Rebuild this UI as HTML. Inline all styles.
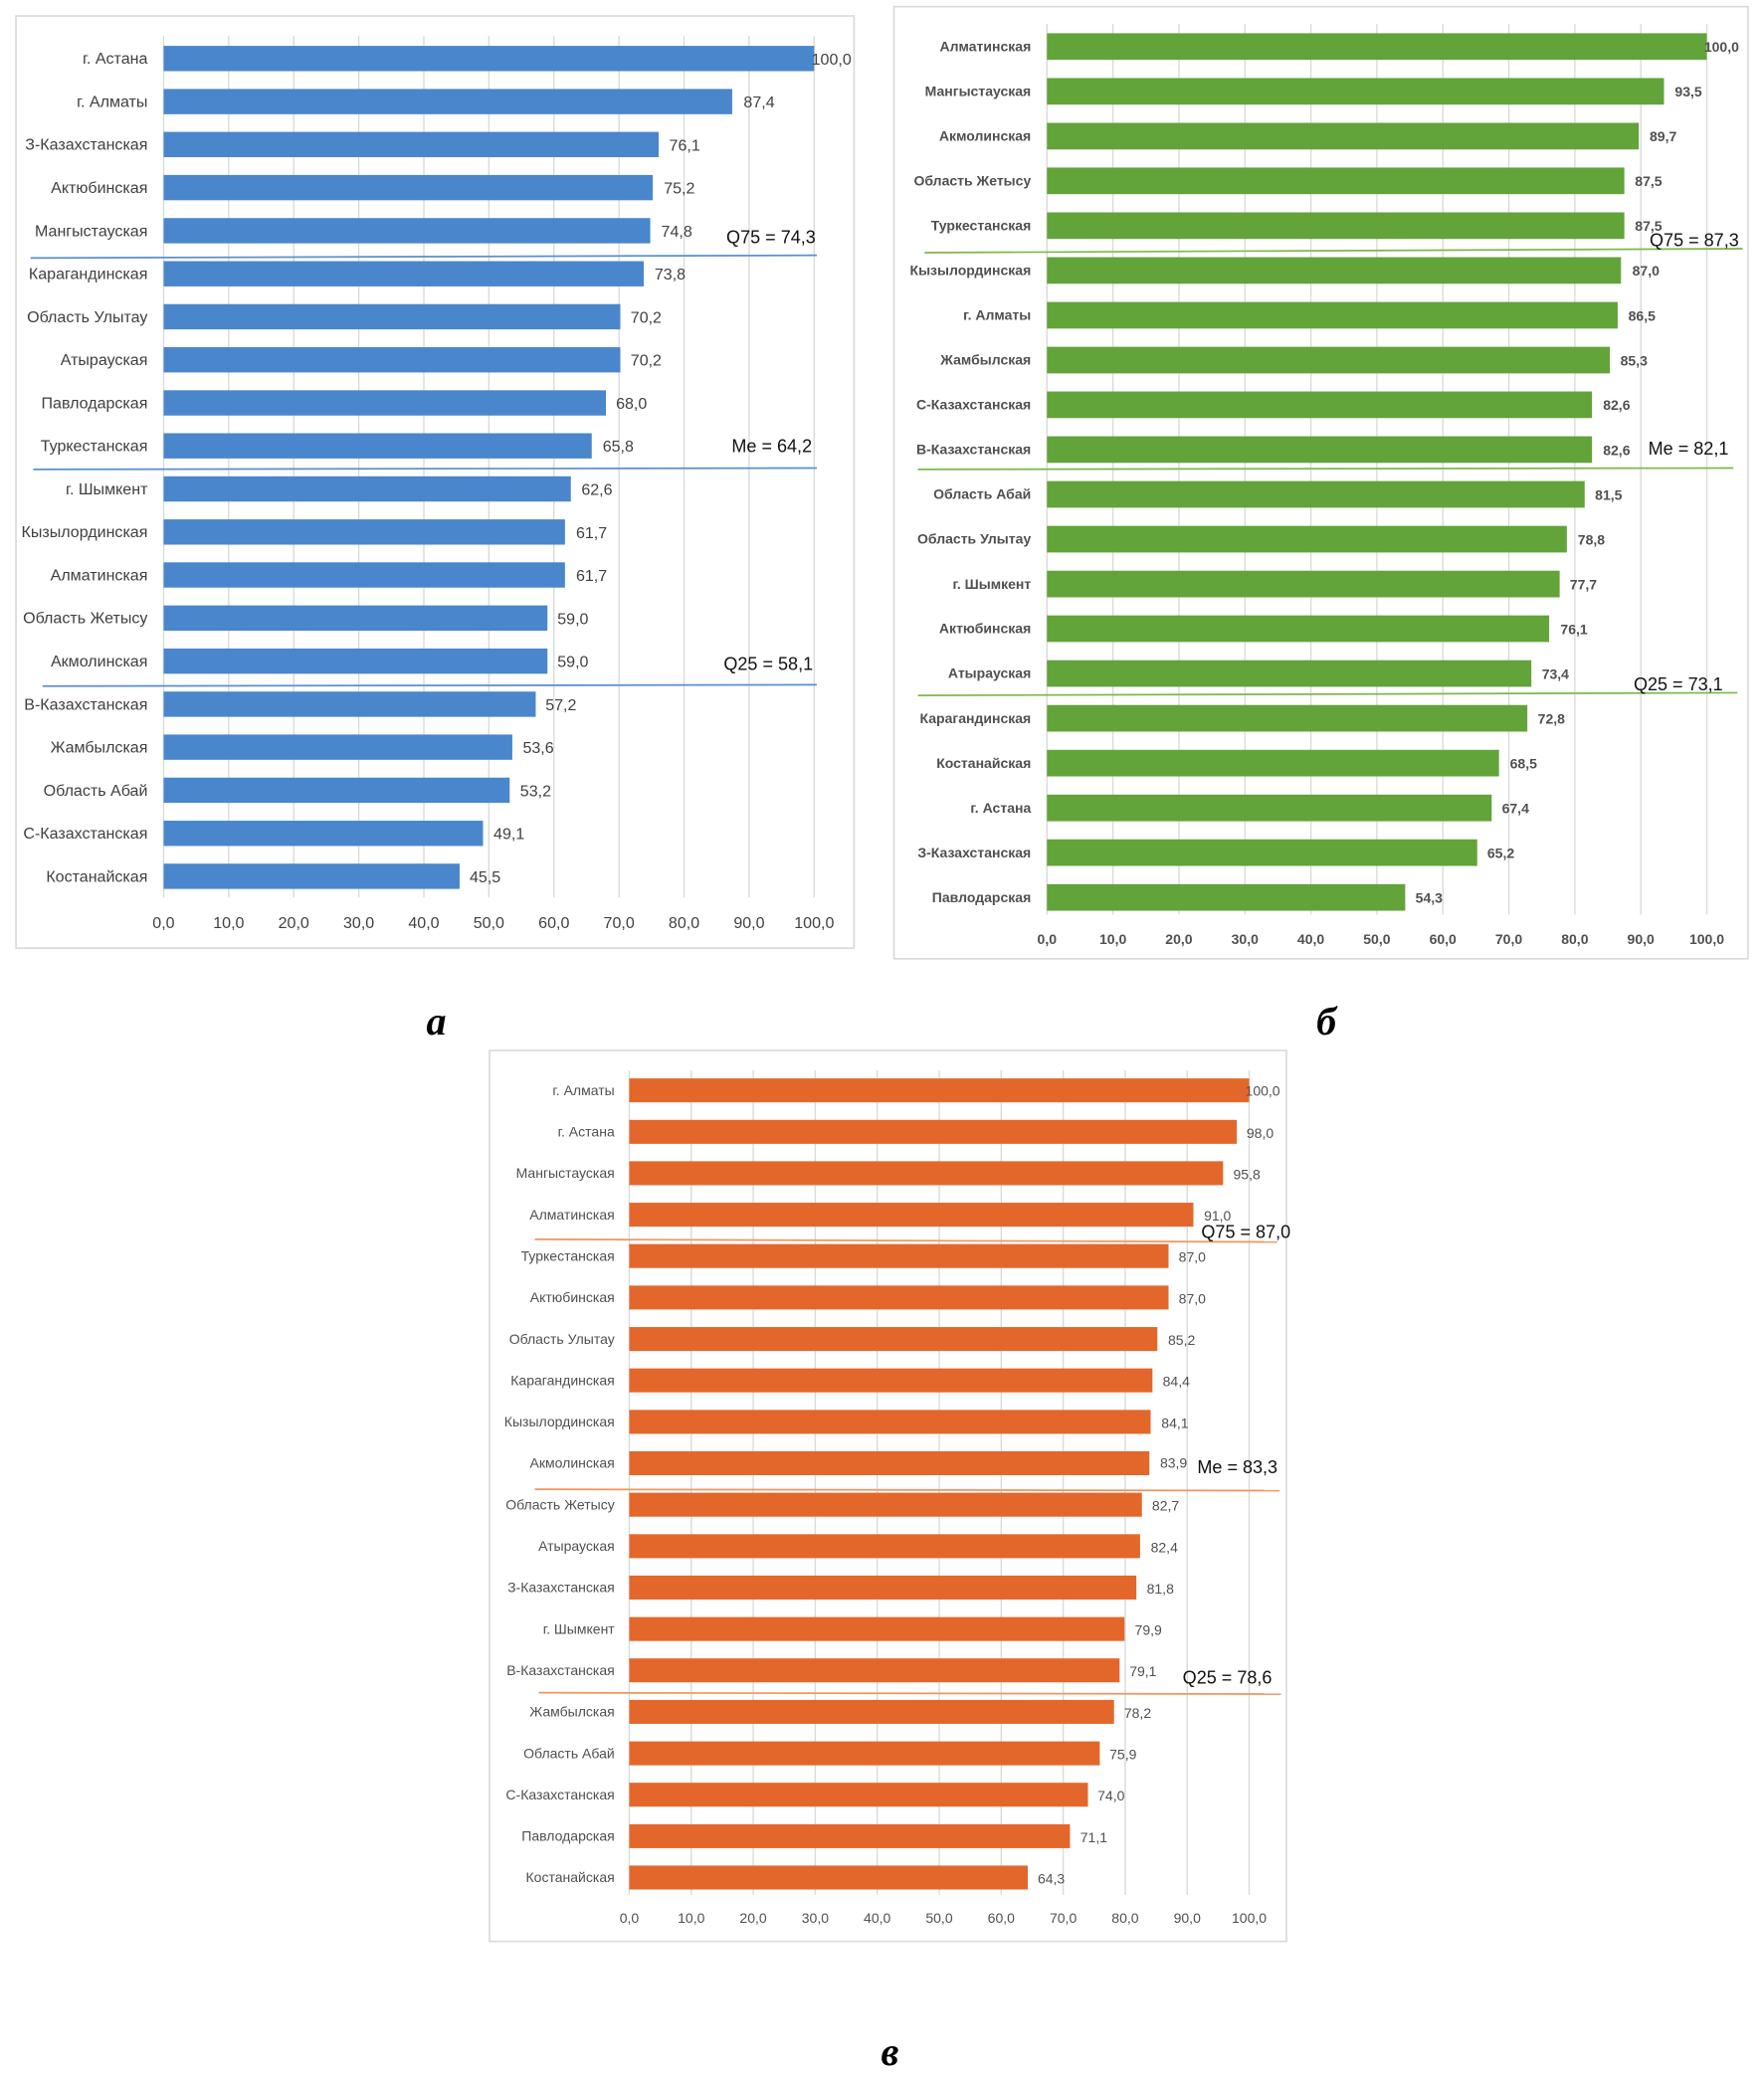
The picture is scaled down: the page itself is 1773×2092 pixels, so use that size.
<!DOCTYPE html>
<html><head><meta charset="utf-8">
<style>
html,body{margin:0;padding:0;background:#fff;}
svg{display:block;}
.a text{font-family:"Liberation Sans Narrow","Liberation Sans",sans-serif;font-size:12px;fill:#404040;}
.b text{font-family:"Liberation Sans Narrow","Liberation Sans",sans-serif;font-size:10.5px;fill:#505050;font-weight:bold;}
.c text{font-family:"Liberation Sans Narrow","Liberation Sans",sans-serif;font-size:10.5px;fill:#505050;}
.cat{text-anchor:end;}
.tk{text-anchor:middle;}
.q{font-size:13.5px !important;fill:#111 !important;font-weight:normal !important;}
.cap{font-family:"Liberation Serif",serif;font-style:italic;font-weight:bold;font-size:30px;fill:#000;text-anchor:middle;}
</style></head><body>
<svg width="1773" height="2092" viewBox="0 0 1326 1565" preserveAspectRatio="none" xmlns="http://www.w3.org/2000/svg">
<!-- Chart A -->
<g class="a">
<rect x="12" y="12" width="630" height="701" fill="#fff" stroke="#d9d9d9" stroke-width="1.2"/>
<g stroke="#d9d9d9" stroke-width="1">
<line x1="123" y1="27" x2="123" y2="675"/><line x1="171.9" y1="27" x2="171.9" y2="675"/><line x1="220.8" y1="27" x2="220.8" y2="675"/><line x1="269.7" y1="27" x2="269.7" y2="675"/><line x1="318.6" y1="27" x2="318.6" y2="675"/><line x1="367.5" y1="27" x2="367.5" y2="675"/><line x1="416.4" y1="27" x2="416.4" y2="675"/><line x1="465.3" y1="27" x2="465.3" y2="675"/><line x1="514.2" y1="27" x2="514.2" y2="675"/><line x1="563.1" y1="27" x2="563.1" y2="675"/><line x1="612" y1="27" x2="612" y2="675"/>
</g>
<g fill="#4a86cb">
<rect x="123" y="34.5" width="489" height="19"/>
<rect x="123" y="66.9" width="427.4" height="19"/>
<rect x="123" y="99.2" width="372.1" height="19"/>
<rect x="123" y="131.6" width="367.7" height="19"/>
<rect x="123" y="164.0" width="365.8" height="19"/>
<rect x="123" y="196.4" width="360.9" height="19"/>
<rect x="123" y="228.7" width="343.3" height="19"/>
<rect x="123" y="261.1" width="343.3" height="19"/>
<rect x="123" y="293.5" width="332.5" height="19"/>
<rect x="123" y="325.8" width="321.8" height="19"/>
<rect x="123" y="358.2" width="306.1" height="19"/>
<rect x="123" y="390.6" width="301.7" height="19"/>
<rect x="123" y="422.9" width="301.7" height="19"/>
<rect x="123" y="455.3" width="288.5" height="19"/>
<rect x="123" y="487.7" width="288.5" height="19"/>
<rect x="123" y="520.1" width="279.7" height="19"/>
<rect x="123" y="552.4" width="262.1" height="19"/>
<rect x="123" y="584.8" width="260.1" height="19"/>
<rect x="123" y="617.2" width="240.1" height="19"/>
<rect x="123" y="649.5" width="222.5" height="19"/>
</g>
<g class="cat">
<text x="111" y="48" class="cat">г. Астана</text>
<text x="111" y="80.4" class="cat">г. Алматы</text>
<text x="111" y="112.7" class="cat">З-Казахстанская</text>
<text x="111" y="145.1" class="cat">Актюбинская</text>
<text x="111" y="177.5" class="cat">Мангыстауская</text>
<text x="111" y="209.9" class="cat">Карагандинская</text>
<text x="111" y="242.2" class="cat">Область Улытау</text>
<text x="111" y="274.6" class="cat">Атырауская</text>
<text x="111" y="307" class="cat">Павлодарская</text>
<text x="111" y="339.3" class="cat">Туркестанская</text>
<text x="111" y="371.7" class="cat">г. Шымкент</text>
<text x="111" y="404.1" class="cat">Кызылординская</text>
<text x="111" y="436.4" class="cat">Алматинская</text>
<text x="111" y="468.8" class="cat">Область Жетысу</text>
<text x="111" y="501.2" class="cat">Акмолинская</text>
<text x="111" y="533.6" class="cat">В-Казахстанская</text>
<text x="111" y="565.9" class="cat">Жамбылская</text>
<text x="111" y="598.3" class="cat">Область Абай</text>
<text x="111" y="630.7" class="cat">С-Казахстанская</text>
<text x="111" y="663" class="cat">Костанайская</text>
</g>
<text x="610" y="48.5">100,0</text>
<text x="559" y="80.9">87,4</text>
<text x="503" y="113.2">76,1</text>
<text x="499" y="145.6">75,2</text>
<text x="497" y="178">74,8</text>
<text x="492" y="210.4">73,8</text>
<text x="474" y="242.7">70,2</text>
<text x="474" y="275.1">70,2</text>
<text x="463" y="307.5">68,0</text>
<text x="453" y="339.8">65,8</text>
<text x="437" y="372.2">62,6</text>
<text x="433" y="404.6">61,7</text>
<text x="433" y="436.9">61,7</text>
<text x="419" y="469.3">59,0</text>
<text x="419" y="501.7">59,0</text>
<text x="410" y="534.1">57,2</text>
<text x="393" y="566.4">53,6</text>
<text x="391" y="598.8">53,2</text>
<text x="371" y="631.2">49,1</text>
<text x="353" y="663.5">45,5</text>
<g class="tk">
<text x="123" y="698" class="tk">0,0</text><text x="171.9" y="698" class="tk">10,0</text><text x="220.8" y="698" class="tk">20,0</text><text x="269.7" y="698" class="tk">30,0</text><text x="318.6" y="698" class="tk">40,0</text><text x="367.5" y="698" class="tk">50,0</text><text x="416.4" y="698" class="tk">60,0</text><text x="465.3" y="698" class="tk">70,0</text><text x="514.2" y="698" class="tk">80,0</text><text x="563.1" y="698" class="tk">90,0</text><text x="612" y="698" class="tk">100,0</text>
</g>
<g stroke="#5b8fcf" stroke-width="1.3">
<line x1="23" y1="194" x2="614" y2="192"/>
<line x1="25" y1="353" x2="614" y2="352"/>
<line x1="32" y1="516" x2="614" y2="515"/>
</g>
<text x="546" y="183" class="q">Q75 = 74,3</text>
<text x="550" y="340" class="q">Me = 64,2</text>
<text x="544" y="504" class="q">Q25 = 58,1</text>
</g>

<!-- Chart B -->
<g class="b">
<rect x="672" y="5" width="642" height="716" fill="#fff" stroke="#d9d9d9" stroke-width="1.2"/>
<g stroke="#d9d9d9" stroke-width="1">
<line x1="787" y1="18" x2="787" y2="688"/><line x1="836.6" y1="18" x2="836.6" y2="688"/><line x1="886.2" y1="18" x2="886.2" y2="688"/><line x1="935.8" y1="18" x2="935.8" y2="688"/><line x1="985.4" y1="18" x2="985.4" y2="688"/><line x1="1035" y1="18" x2="1035" y2="688"/><line x1="1084.6" y1="18" x2="1084.6" y2="688"/><line x1="1134.2" y1="18" x2="1134.2" y2="688"/><line x1="1183.8" y1="18" x2="1183.8" y2="688"/><line x1="1233.4" y1="18" x2="1233.4" y2="688"/><line x1="1283" y1="18" x2="1283" y2="688"/>
</g>
<g fill="#62a33a">
<rect x="787" y="25" width="496" height="20"/>
<rect x="787" y="58.7" width="463.8" height="20"/>
<rect x="787" y="92.4" width="444.9" height="20"/>
<rect x="787" y="126" width="434" height="20"/>
<rect x="787" y="159.7" width="434" height="20"/>
<rect x="787" y="193.4" width="431.5" height="20"/>
<rect x="787" y="227.1" width="429" height="20"/>
<rect x="787" y="260.8" width="423.1" height="20"/>
<rect x="787" y="294.4" width="409.7" height="20"/>
<rect x="787" y="328.1" width="409.7" height="20"/>
<rect x="787" y="361.8" width="404.2" height="20"/>
<rect x="787" y="395.5" width="390.8" height="20"/>
<rect x="787" y="429.2" width="385.4" height="20"/>
<rect x="787" y="462.8" width="377.5" height="20"/>
<rect x="787" y="496.5" width="364.1" height="20"/>
<rect x="787" y="530.2" width="361.1" height="20"/>
<rect x="787" y="563.9" width="339.8" height="20"/>
<rect x="787" y="597.6" width="334.3" height="20"/>
<rect x="787" y="631.2" width="323.4" height="20"/>
<rect x="787" y="664.9" width="269.3" height="20"/>
</g>
<text x="775" y="38.5" class="cat">Алматинская</text>
<text x="775" y="72.2" class="cat">Мангыстауская</text>
<text x="775" y="105.9" class="cat">Акмолинская</text>
<text x="775" y="139.5" class="cat">Область Жетысу</text>
<text x="775" y="173.2" class="cat">Туркестанская</text>
<text x="775" y="206.9" class="cat">Кызылординская</text>
<text x="775" y="240.6" class="cat">г. Алматы</text>
<text x="775" y="274.3" class="cat">Жамбылская</text>
<text x="775" y="307.9" class="cat">С-Казахстанская</text>
<text x="775" y="341.6" class="cat">В-Казахстанская</text>
<text x="775" y="375.3" class="cat">Область Абай</text>
<text x="775" y="409" class="cat">Область Улытау</text>
<text x="775" y="442.7" class="cat">г. Шымкент</text>
<text x="775" y="476.3" class="cat">Актюбинская</text>
<text x="775" y="510" class="cat">Атырауская</text>
<text x="775" y="543.7" class="cat">Карагандинская</text>
<text x="775" y="577.4" class="cat">Костанайская</text>
<text x="775" y="611.1" class="cat">г. Астана</text>
<text x="775" y="644.7" class="cat">З-Казахстанская</text>
<text x="775" y="678.4" class="cat">Павлодарская</text>
<text x="1281" y="39">100,0</text>
<text x="1259" y="72.7">93,5</text>
<text x="1240" y="106.4">89,7</text>
<text x="1229" y="140">87,5</text>
<text x="1229" y="173.7">87,5</text>
<text x="1227" y="207.4">87,0</text>
<text x="1224" y="241.1">86,5</text>
<text x="1218" y="274.8">85,3</text>
<text x="1205" y="308.4">82,6</text>
<text x="1205" y="342.1">82,6</text>
<text x="1199" y="375.8">81,5</text>
<text x="1186" y="409.5">78,8</text>
<text x="1180" y="443.2">77,7</text>
<text x="1173" y="476.8">76,1</text>
<text x="1159" y="510.5">73,4</text>
<text x="1156" y="544.2">72,8</text>
<text x="1135" y="577.9">68,5</text>
<text x="1129" y="611.6">67,4</text>
<text x="1118" y="645.2">65,2</text>
<text x="1064" y="678.9">54,3</text>
<text x="787" y="710" class="tk">0,0</text><text x="836.6" y="710" class="tk">10,0</text><text x="886.2" y="710" class="tk">20,0</text><text x="935.8" y="710" class="tk">30,0</text><text x="985.4" y="710" class="tk">40,0</text><text x="1035" y="710" class="tk">50,0</text><text x="1084.6" y="710" class="tk">60,0</text><text x="1134.2" y="710" class="tk">70,0</text><text x="1183.8" y="710" class="tk">80,0</text><text x="1233.4" y="710" class="tk">90,0</text><text x="1283" y="710" class="tk">100,0</text>
<g stroke="#7cb84a" stroke-width="1.3">
<line x1="695" y1="190" x2="1310" y2="187"/>
<line x1="690" y1="353" x2="1303" y2="352"/>
<line x1="690" y1="523" x2="1306" y2="521"/>
</g>
<text x="1240" y="185" class="q">Q75 = 87,3</text>
<text x="1239" y="342" class="q">Me = 82,1</text>
<text x="1228" y="519" class="q">Q25 = 73,1</text>
</g>

<!-- Chart C -->
<g class="c">
<rect x="368" y="790" width="599" height="670" fill="#fff" stroke="#d9d9d9" stroke-width="1.2"/>
<g stroke="#d9d9d9" stroke-width="1">
<line x1="473" y1="805" x2="473" y2="1425"/><line x1="519.6" y1="805" x2="519.6" y2="1425"/><line x1="566.2" y1="805" x2="566.2" y2="1425"/><line x1="612.8" y1="805" x2="612.8" y2="1425"/><line x1="659.4" y1="805" x2="659.4" y2="1425"/><line x1="706" y1="805" x2="706" y2="1425"/><line x1="752.6" y1="805" x2="752.6" y2="1425"/><line x1="799.2" y1="805" x2="799.2" y2="1425"/><line x1="845.8" y1="805" x2="845.8" y2="1425"/><line x1="892.4" y1="805" x2="892.4" y2="1425"/><line x1="939" y1="805" x2="939" y2="1425"/>
</g>
<g fill="#e3672b">
<rect x="473" y="811" width="466" height="18"/>
<rect x="473" y="842.2" width="456.7" height="18"/>
<rect x="473" y="873.3" width="446.4" height="18"/>
<rect x="473" y="904.5" width="424.1" height="18"/>
<rect x="473" y="935.6" width="405.4" height="18"/>
<rect x="473" y="966.8" width="405.4" height="18"/>
<rect x="473" y="998" width="397" height="18"/>
<rect x="473" y="1029.1" width="393.3" height="18"/>
<rect x="473" y="1060.3" width="391.9" height="18"/>
<rect x="473" y="1091.4" width="391" height="18"/>
<rect x="473" y="1122.6" width="385.4" height="18"/>
<rect x="473" y="1153.8" width="384" height="18"/>
<rect x="473" y="1184.9" width="381.2" height="18"/>
<rect x="473" y="1216.1" width="372.3" height="18"/>
<rect x="473" y="1247.2" width="368.6" height="18"/>
<rect x="473" y="1278.4" width="364.4" height="18"/>
<rect x="473" y="1309.6" width="353.7" height="18"/>
<rect x="473" y="1340.7" width="344.8" height="18"/>
<rect x="473" y="1371.9" width="331.3" height="18"/>
<rect x="473" y="1403" width="299.6" height="18"/>
</g>
<text x="462" y="823.5" class="cat">г. Алматы</text>
<text x="462" y="854.7" class="cat">г. Астана</text>
<text x="462" y="885.8" class="cat">Мангыстауская</text>
<text x="462" y="917" class="cat">Алматинская</text>
<text x="462" y="948.1" class="cat">Туркестанская</text>
<text x="462" y="979.3" class="cat">Актюбинская</text>
<text x="462" y="1010.5" class="cat">Область Улытау</text>
<text x="462" y="1041.6" class="cat">Карагандинская</text>
<text x="462" y="1072.8" class="cat">Кызылординская</text>
<text x="462" y="1103.9" class="cat">Акмолинская</text>
<text x="462" y="1135.1" class="cat">Область Жетысу</text>
<text x="462" y="1166.3" class="cat">Атырауская</text>
<text x="462" y="1197.4" class="cat">З-Казахстанская</text>
<text x="462" y="1228.6" class="cat">г. Шымкент</text>
<text x="462" y="1259.7" class="cat">В-Казахстанская</text>
<text x="462" y="1290.9" class="cat">Жамбылская</text>
<text x="462" y="1322.1" class="cat">Область Абай</text>
<text x="462" y="1353.2" class="cat">С-Казахстанская</text>
<text x="462" y="1384.4" class="cat">Павлодарская</text>
<text x="462" y="1415.5" class="cat">Костанайская</text>
<text x="936" y="824">100,0</text>
<text x="937" y="855.7">98,0</text>
<text x="927" y="886.8">95,8</text>
<text x="905" y="918">91,0</text>
<text x="886" y="949.1">87,0</text>
<text x="886" y="980.3">87,0</text>
<text x="878" y="1011.5">85,2</text>
<text x="874" y="1042.6">84,4</text>
<text x="873" y="1073.8">84,1</text>
<text x="872" y="1103.9">83,9</text>
<text x="866" y="1136.1">82,7</text>
<text x="865" y="1167.3">82,4</text>
<text x="862" y="1198.4">81,8</text>
<text x="853" y="1229.6">79,9</text>
<text x="849" y="1260.7">79,1</text>
<text x="845" y="1291.9">78,2</text>
<text x="834" y="1323.1">75,9</text>
<text x="825" y="1354.2">74,0</text>
<text x="812" y="1385.4">71,1</text>
<text x="780" y="1416.5">64,3</text>
<text x="473" y="1446" class="tk">0,0</text><text x="519.6" y="1446" class="tk">10,0</text><text x="566.2" y="1446" class="tk">20,0</text><text x="612.8" y="1446" class="tk">30,0</text><text x="659.4" y="1446" class="tk">40,0</text><text x="706" y="1446" class="tk">50,0</text><text x="752.6" y="1446" class="tk">60,0</text><text x="799.2" y="1446" class="tk">70,0</text><text x="845.8" y="1446" class="tk">80,0</text><text x="892.4" y="1446" class="tk">90,0</text><text x="939" y="1446" class="tk">100,0</text>
<g stroke="#f0955e" stroke-width="1.3">
<line x1="402" y1="932" x2="960" y2="934"/>
<line x1="402" y1="1120" x2="962" y2="1121"/>
<line x1="405" y1="1273" x2="963" y2="1274"/>
</g>
<text x="903" y="931" class="q">Q75 = 87,0</text>
<text x="900" y="1108" class="q">Me = 83,3</text>
<text x="889" y="1266" class="q">Q25 = 78,6</text>
</g>

<text x="328" y="778" class="cap">а</text>
<text x="997" y="778" class="cap">б</text>
<text x="669" y="1553" class="cap">в</text>
</svg>
</body></html>
